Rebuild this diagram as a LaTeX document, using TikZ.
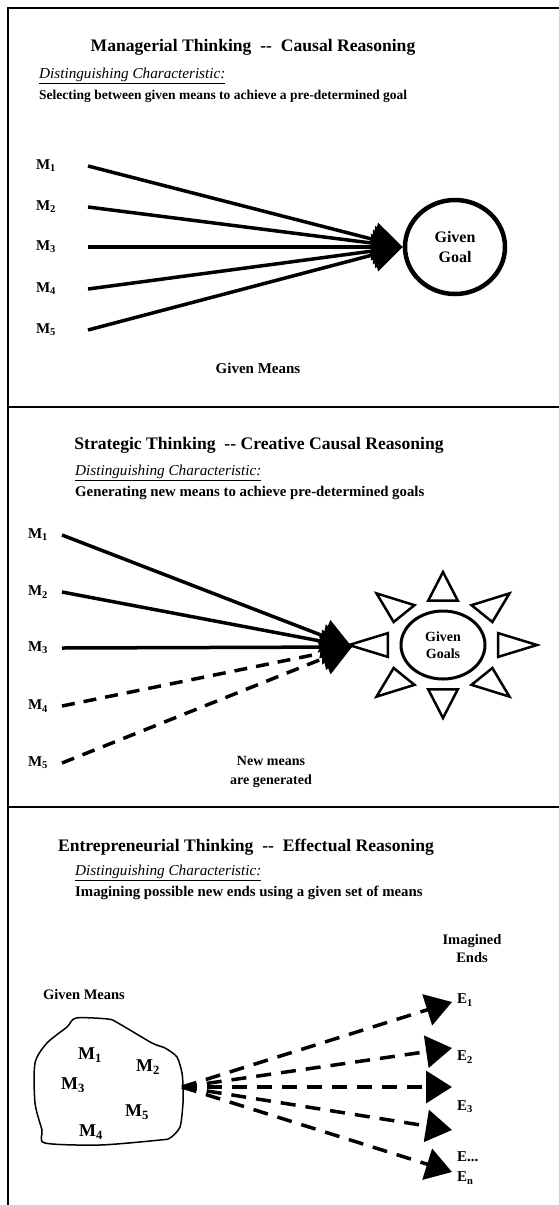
\documentclass[tikz,border=0pt]{standalone}
\usepackage{fontspec}
\setmainfont{Liberation Serif}
\usetikzlibrary{arrows.meta,shapes.geometric}

\begin{document}
\begin{tikzpicture}[x=1pt,y=-1pt,
    frameline/.style={line width=2.5pt},
    heading/.style={font=\fontsize{17.6}{20}\selectfont\bfseries,inner sep=0pt},
    charac/.style={font=\fontsize{15.2}{17}\selectfont\itshape,anchor=west,inner sep=0pt},
    descr/.style={font=\fontsize{14.8}{17}\selectfont\bfseries,anchor=west,inner sep=0pt},
    meanlabel/.style={font=\fontsize{15}{17}\selectfont\bfseries,inner sep=0pt},
    caption/.style={font=\fontsize{15}{19}\selectfont\bfseries,align=center,inner sep=0pt},
    fan/.style={line width=3.5pt,-{Triangle[length=30pt,width=34pt]}},
    newfan/.style={fan,dash pattern=on 13pt off 9pt},
    endfan/.style={line width=3.5pt,dash pattern=on 15pt off 10pt,-{Triangle[length=26pt,width=32pt]}},
    ray/.style={line width=2.5pt,fill=white,line join=miter}
  ]
  \useasboundingbox (0,0) rectangle (559,1205);
  % Frame and dividers
  \draw[frameline] (8,1205) -- (8,8) -- (559,8);
  \draw[frameline] (8,407) -- (559,407);
  \draw[frameline] (8,807) -- (559,807);

  % Panel 1: managerial thinking
  \node[heading] (title1) at (253,47) {Managerial Thinking\ \ -{}-\ \ Causal Reasoning};
  \node[charac] (dist1) at (39,76) {\underline{Distinguishing Characteristic:}};
  \node[descr,font=\fontsize{13.5}{16}\selectfont\bfseries] (sel1) at (39,96) {Selecting between given means to achieve a pre-determined goal};
  \node[draw,ellipse,line width=4.5pt,minimum width=100pt,minimum height=94pt,
        caption,font=\fontsize{16}{20}\selectfont\bfseries] (goal) at (455,247) {Given\\Goal};
  \foreach \i/\y in {1/166,2/207,3/247,4/289,5/330} {
    \node[meanlabel] (ma\i) at (46,\y) {M\textsubscript{\i}};
    \coordinate (ma\i s) at (88,\y);
    \draw[fan] (ma\i s) -- (goal.west);
  }
  \node[caption] (given1) at (258,368) {Given Means};

  % Panel 2: strategic thinking
  \node[heading] (title2) at (259,445) {Strategic Thinking\ \ -{}- Creative Causal Reasoning};
  \node[charac] (dist2) at (75,473) {\underline{Distinguishing Characteristic:}};
  \node[descr] (sel2) at (75,493) {Generating new means to achieve pre-determined goals};
  \begin{scope}[shift={(443,645)}]
    \foreach \a in {0,45,...,315}
      \draw[ray] (\a-15:57pt and 46pt) -- (\a:94pt and 73pt) -- (\a+15:57pt and 46pt) -- cycle;
  \end{scope}
  \node[draw,ellipse,line width=3pt,minimum width=84pt,minimum height=68pt,
        caption,font=\fontsize{14}{17}\selectfont\bfseries] (goals) at (443,645) {Given\\Goals};
  \coordinate (gtip) at (352,647);
  \foreach \i/\y in {1/535,2/592,3/648,4/706,5/763} {
    \node[meanlabel] (mb\i) at (38,\y) {M\textsubscript{\i}};
    \coordinate (mb\i s) at (62,\y);
  }
  \foreach \i in {1,2,3} \draw[fan] (mb\i s) -- (gtip);
  \foreach \i in {4,5} \draw[newfan] (mb\i s) -- (gtip);
  \node[caption,font=\fontsize{14}{19}\selectfont\bfseries] (newmeans) at (271,772) {New means\\are generated};

  % Panel 3: entrepreneurial thinking
  \node[heading] (title3) at (246,847) {Entrepreneurial Thinking\ \ -{}-\ \ Effectual Reasoning};
  \node[charac] (dist3) at (75,873) {\underline{Distinguishing Characteristic:}};
  \node[descr] (sel3) at (75,893) {Imagining possible new ends using a given set of means};
  \node[caption,font=\fontsize{14.5}{18}\selectfont\bfseries] (imagined) at (472,949) {Imagined\\Ends};
  \node[caption,font=\fontsize{14.5}{18}\selectfont\bfseries] (given3) at (84,995) {Given Means};
  \draw[line width=1.5pt] plot[smooth cycle,tension=0.45] coordinates {
    (76,1018) (108,1019) (118,1023) (152,1043) (165,1048) (177,1057)
    (182,1073) (183,1087) (183,1103) (180,1127) (170,1138) (160,1140)
    (100,1145) (45,1143) (42,1130) (35,1103) (35,1063) (47,1043) (67,1027)};
  \foreach \i/\x/\y in {1/90/1055,2/148/1067,3/73/1085,5/137/1112,4/91/1132}
    \node[meanlabel,font=\fontsize{18}{20}\selectfont\bfseries] (mc\i) at (\x,\y) {M\textsubscript{\i}};
  \coordinate (src) at (182,1087);
  \foreach \i/\y in {1/1002,2/1048,3/1087,4/1130,5/1172} {
    \coordinate (end\i) at (452,\y);
    \draw[endfan] (src) -- (end\i);
  }
  \node[meanlabel,anchor=west] (e1) at (457,1000) {E\textsubscript{1}};
  \node[meanlabel,anchor=west] (e2) at (457,1057) {E\textsubscript{2}};
  \node[meanlabel,anchor=west] (e3) at (457,1107) {E\textsubscript{3}};
  \node[meanlabel,anchor=west] (edots) at (457,1157) {E...};
  \node[meanlabel,anchor=west] (en) at (457,1178) {E\textsubscript{n}};
\end{tikzpicture}
\end{document}
